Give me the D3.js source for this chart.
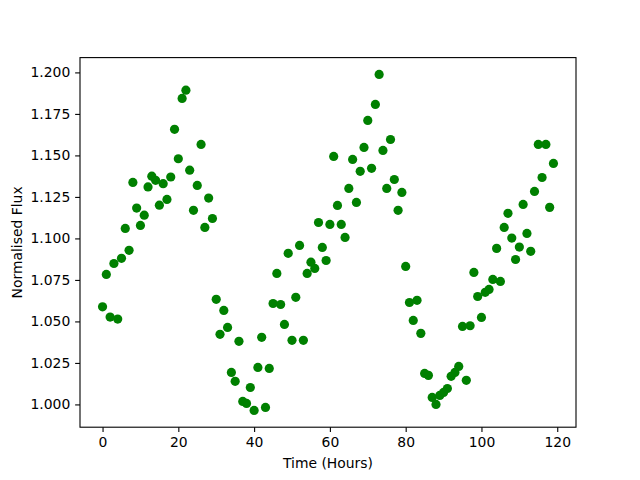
<!DOCTYPE html>
<html>
<head>
<meta charset="utf-8">
<script src="https://cdn.jsdelivr.net/npm/d3@7"></script>
<style>
  body { margin: 0; background: #fff; }
  text { font-family: "DejaVu Sans", sans-serif; fill: #000; }
</style>
</head>
<body>
<div class="container"></div>
<script>
// hours 0..119, one reading per hour
const hours = d3.range(0, 120);
const flux = [
  1.0588, 1.0783, 1.0526, 1.0849, 1.0514, 1.0880, 1.1060, 1.0928, 1.1337, 1.1183,
  1.1078, 1.1140, 1.1310, 1.1375, 1.1350, 1.1200, 1.1330, 1.1235, 1.1370, 1.1657,
  1.1480, 1.1843, 1.1893, 1.1411, 1.1169, 1.1319, 1.1566, 1.1066, 1.1243, 1.1120,
  1.0633, 1.0422, 1.0566, 1.0464, 1.0193, 1.0139, 1.0380, 1.0018, 1.0006, 1.0102,
  0.9964, 1.0223, 1.0404, 0.9982, 1.0217, 1.0608, 1.0789, 1.0602, 1.0482, 1.0910,
  1.0386, 1.0645, 1.0958, 1.0386, 1.0789, 1.0857, 1.0819, 1.1096, 1.0946, 1.0867,
  1.1084, 1.1494, 1.1199, 1.1084, 1.1006, 1.1301, 1.1476, 1.1217, 1.1404, 1.1548,
  1.1711, 1.1422, 1.1807, 1.1988, 1.1530, 1.1301, 1.1596, 1.1355, 1.1169, 1.1277,
  1.0831, 1.0614, 1.0506, 1.0627, 1.0428, 1.0187, 1.0175, 1.0042, 1.0000, 1.0054,
  1.0072, 1.0096, 1.0169, 1.0193, 1.0229, 1.0470, 1.0145, 1.0474, 1.0795, 1.0650,
  1.0524, 1.0675, 1.0693, 1.0753, 1.0940, 1.0741, 1.1066, 1.1151, 1.1002, 1.0873,
  1.0948, 1.1205, 1.1030, 1.0922, 1.1283, 1.1566, 1.1367, 1.1566, 1.1187, 1.1452
];
const xTicks = [0, 20, 40, 60, 80, 100, 120];
const yTicks = [1.000, 1.025, 1.050, 1.075, 1.100, 1.125, 1.150, 1.175, 1.200];

const margin = {top: 57.6, right: 64, bottom: 52.8, left: 80};
const width = 640 - margin.left - margin.right;
const height = 480 - margin.top - margin.bottom;

const data = hours.map((h, i) => ({x: h, y: flux[i]}));

function padded(ext) {
  const pad = (ext[1] - ext[0]) * 0.05;
  return [ext[0] - pad, ext[1] + pad];
}

const x = d3.scaleLinear()
  .domain(padded(d3.extent(hours)))
  .range([0, width]);
const y = d3.scaleLinear()
  .domain(padded(d3.extent(flux)))
  .range([height, 0]);

const svg = d3.select(".container")
  .append("svg")
    .attr("width", 640)
    .attr("height", 480)
  .append("g")
    .attr("transform", "translate(" + margin.left + "," + margin.top + ")");

const tickLen = 4.86;
const pad = 4.86;

const xAxis = svg.append("g")
  .attr("transform", "translate(0," + height + ")")
  .call(d3.axisBottom(x).tickValues(xTicks).tickSize(tickLen).tickPadding(pad).tickSizeOuter(0));

const yAxis = svg.append("g")
  .call(d3.axisLeft(y).tickValues(yTicks).tickFormat(d3.format(".3f")).tickSize(tickLen).tickPadding(pad).tickSizeOuter(0));

[xAxis, yAxis].forEach(a => {
  a.select(".domain").remove();
  a.selectAll(".tick line").attr("stroke", "#000").attr("stroke-width", 1.1);
  a.selectAll(".tick text")
    .style("font-family", "'DejaVu Sans', sans-serif")
    .style("font-size", "13.9px")
    .attr("fill", "#000");
});

svg.selectAll(".dot")
  .data(data)
  .enter()
  .append("circle")
    .classed("dot", true)
    .attr("cx", d => x(d.x))
    .attr("cy", d => y(d.y))
    .attr("r", 4.6)
    .attr("fill", "#008000");

// frame
svg.append("rect")
  .attr("width", width)
  .attr("height", height)
  .attr("fill", "none")
  .attr("stroke", "#000")
  .attr("stroke-width", 1.1);

svg.append("text")
  .attr("x", width / 2)
  .attr("y", height + 41)
  .attr("text-anchor", "middle")
  .style("font-size", "13.9px")
  .text("Time (Hours)");

svg.append("text")
  .attr("transform", "translate(" + (-58) + "," + (height / 2) + ") rotate(-90)")
  .attr("text-anchor", "middle")
  .style("font-size", "13.9px")
  .text("Normalised Flux");
</script>
</body>
</html>
